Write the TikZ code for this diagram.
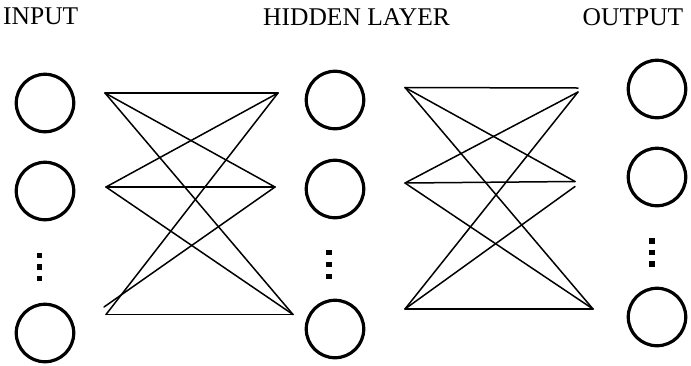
\documentclass[tikz,border=0pt]{standalone}
\usepackage{fontspec}
\setmainfont{Liberation Serif}
\begin{document}
\begin{tikzpicture}[x=1pt,y=-1pt,
  neuron/.style={circle,draw,line width=3.2pt,minimum size=57.5pt,inner sep=0pt},
  label/.style={inner sep=0pt,anchor=base west,font=\fontsize{25.5pt}{26pt}\selectfont},
  vdot/.style={rectangle,fill=black,minimum size=5.5pt,inner sep=0pt},
  link/.style={line width=1.5pt,line cap=round}]
\useasboundingbox (0,0) rectangle (691,365);
% labels
\node[label] (tin) at (3,24) {INPUT};
\node[label] (thid) at (263,25) {HIDDEN LAYER};
\node[label] (tout) at (582.5,25) {OUTPUT};
% neurons
\node[neuron] (i1) at (45,103) {};
\node[neuron] (i2) at (45,191) {};
\node[neuron] (i3) at (45,333) {};
\node[neuron] (h1) at (335,100) {};
\node[neuron] (h2) at (335,189) {};
\node[neuron] (h3) at (335,329) {};
\node[neuron] (o1) at (657,89) {};
\node[neuron] (o2) at (657,177) {};
\node[neuron] (o3) at (657,317) {};
% vertical dots
\foreach \y [count=\k] in {255.5,267,278.5} \node[vdot] (di\k) at (39.5,\y) {};
\foreach \y [count=\k] in {252.7,264.3,276.7} \node[vdot] (dh\k) at (329,\y) {};
\foreach \y [count=\k] in {241,252.7,264} \node[vdot] (do\k) at (652,\y) {};
% block 1 end points
\coordinate (a1) at (105,93);
\coordinate (a2) at (106,187);
\coordinate (a3) at (106,314.5);
\coordinate (a3b) at (104,307);
\coordinate (b1) at (278,93);
\coordinate (b2) at (275,187);
\coordinate (b3) at (293,314.5);
\draw[link] (a1) -- (b1);
\draw[link] (a1) -- (b2);
\draw[link] (a1) -- (b3);
\draw[link] (a2) -- (b1);
\draw[link] (a2) -- (b2);
\draw[link] (a2) -- (b3);
\draw[link] (a3) -- (b1);
\draw[link] (a3b) -- (b2);
\draw[link] (a3) -- (b3);
% block 2 end points
\coordinate (c1) at (405,87.5);
\coordinate (c2) at (405,183);
\coordinate (c3) at (405,309);
\coordinate (d1) at (578,88);
\coordinate (d1b) at (578,92);
\coordinate (d2) at (575,181.5);
\coordinate (d2b) at (575,186.5);
\coordinate (d3) at (593,309);
\draw[link] (c1) -- (d1);
\draw[link] (c1) -- (d2);
\draw[link] (c1) -- (d3);
\draw[link] (c2) -- (d1b);
\draw[link] (c2) -- (d2);
\draw[link] (c2) -- (d3);
\draw[link] (c3) -- (d1b);
\draw[link] (c3) -- (d2b);
\draw[link] (c3) -- (d3);
\end{tikzpicture}
\end{document}
